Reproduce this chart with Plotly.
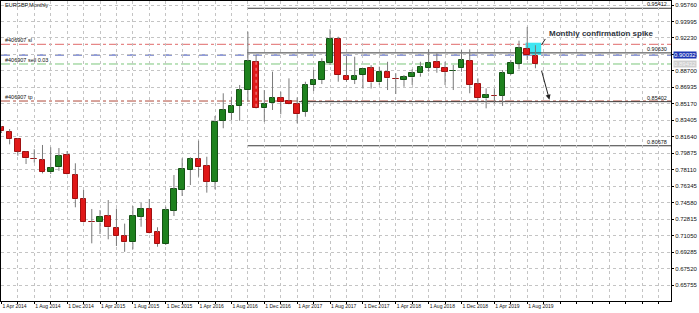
import plotly.graph_objects as go

months = ["Apr 2014","May 2014","Jun 2014","Jul 2014","Aug 2014","Sep 2014","Oct 2014","Nov 2014","Dec 2014",
          "Jan 2015","Feb 2015","Mar 2015","Apr 2015","May 2015","Jun 2015","Jul 2015","Aug 2015","Sep 2015","Oct 2015","Nov 2015","Dec 2015",
          "Jan 2016","Feb 2016","Mar 2016","Apr 2016","May 2016","Jun 2016","Jul 2016","Aug 2016","Sep 2016","Oct 2016","Nov 2016","Dec 2016",
          "Jan 2017","Feb 2017","Mar 2017","Apr 2017","May 2017","Jun 2017","Jul 2017","Aug 2017","Sep 2017","Oct 2017","Nov 2017","Dec 2017",
          "Jan 2018","Feb 2018","Mar 2018","Apr 2018","May 2018","Jun 2018","Jul 2018","Aug 2018","Sep 2018","Oct 2018","Nov 2018","Dec 2018",
          "Jan 2019","Feb 2019","Mar 2019","Apr 2019","May 2019","Jun 2019","Jul 2019","Aug 2019","Sep 2019"]

opens  = [0.8265,0.8218,0.8137,0.8004,0.7925,0.7915,0.7786,0.7837,0.7965,
          0.7754,0.7494,0.7250,0.7246,0.7315,0.7183,0.7100,0.7033,0.7307,0.7394,0.7140,0.7015,
          0.7372,0.7594,0.7808,0.7922,0.7851,0.7682,0.8336,0.8422,0.8494,0.8665,0.8968,0.8469,
          0.8523,0.8583,0.8547,0.8515,0.8433,0.8719,0.8772,0.8958,0.9212,0.8818,0.8772,0.8826,
          0.8896,0.8746,0.8862,0.8782,0.8772,0.8801,0.8844,0.8904,0.8968,0.8904,0.8870,0.8898,
          0.8976,0.8729,0.8576,0.8605,0.8604,0.8836,0.8944,0.9101,0.9029]
highs  = [0.8279,0.8247,0.8147,0.8010,0.8030,0.8076,0.8051,0.8043,0.8011,
          0.7880,0.7594,0.7390,0.7379,0.7486,0.7394,0.7233,0.7422,0.7455,0.7497,0.7194,0.7414,
          0.7754,0.7933,0.7944,0.8122,0.7950,0.8387,0.8630,0.8593,0.8719,0.9290,0.9040,0.8665,
          0.8862,0.8647,0.8790,0.8587,0.8754,0.8880,0.9005,0.9316,0.9236,0.9029,0.9022,0.8896,
          0.8931,0.8915,0.8968,0.8844,0.8826,0.8887,0.8968,0.9101,0.9058,0.8968,0.8933,0.9094,
          0.9101,0.8790,0.8683,0.8683,0.8879,0.8987,0.9194,0.9341,0.9145]
lows   = [0.8204,0.8083,0.7961,0.7872,0.7886,0.7772,0.7765,0.7800,0.7760,
          0.7408,0.7246,0.7022,0.7122,0.7065,0.6993,0.6931,0.6958,0.7200,0.7125,0.6986,0.7004,
          0.7315,0.7529,0.7647,0.7736,0.7565,0.7601,0.8255,0.8344,0.8336,0.8540,0.8464,0.8325,
          0.8451,0.8405,0.8512,0.8308,0.8379,0.8654,0.8729,0.8933,0.8754,0.8754,0.8729,0.8681,
          0.8681,0.8719,0.8665,0.8622,0.8700,0.8719,0.8808,0.8861,0.8850,0.8719,0.8665,0.8861,
          0.8630,0.8540,0.8469,0.8523,0.8494,0.8826,0.8887,0.8987,0.8898]
closes = [0.8223,0.8137,0.8004,0.7933,0.7921,0.7786,0.7826,0.7958,0.7765,
          0.7494,0.7250,0.7246,0.7307,0.7194,0.7100,0.7033,0.7315,0.7394,0.7129,0.7015,0.7379,
          0.7604,0.7815,0.7922,0.7837,0.7682,0.8325,0.8451,0.8494,0.8665,0.8976,0.8469,0.8515,
          0.8583,0.8540,0.8515,0.8408,0.8719,0.8772,0.8968,0.9212,0.8826,0.8772,0.8811,0.8885,
          0.8746,0.8862,0.8790,0.8779,0.8801,0.8844,0.8908,0.8958,0.8904,0.8861,0.8873,0.8987,
          0.8719,0.8576,0.8612,0.8602,0.8850,0.8951,0.9112,0.9040,0.8944]

price_ticks = [0.65755,0.67520,0.69285,0.71050,0.72815,0.74580,0.76345,0.78110,0.79875,
               0.81640,0.83405,0.85170,0.86935,0.88700,0.90465,0.92230,0.93995,0.95760]
date_labels = {0:"1 Apr 2014",4:"1 Aug 2014",8:"1 Dec 2014",12:"1 Apr 2015",16:"1 Aug 2015",20:"1 Dec 2015",
               24:"1 Apr 2016",28:"1 Aug 2016",32:"1 Dec 2016",36:"1 Apr 2017",40:"1 Aug 2017",44:"1 Dec 2017",
               48:"1 Apr 2018",52:"1 Aug 2018",56:"1 Dec 2018",60:"1 Apr 2019",64:"1 Aug 2019"}

# order / level lines
sl_price, bid_price, sell_price, tp_price = 0.9155, 0.9040, 0.8944, 0.8547
levels = [(0.95412, 29.9, "0.95412"), (0.90630, 29.9, "0.90630"), (0.85402, 36.2, "0.85402"), (0.80678, 29.9, "0.80678")]

idx = list(range(len(months)))
X0, X1 = -0.05, 81.5
Y0, Y1 = 0.6404, 0.9619

fig = go.Figure()

# wicks (upper and lower segments, so they stay outside the bodies)
wx, wy = [], []
for i, o, h, l, c in zip(idx, opens, highs, lows, closes):
    top, bot = max(o, c), min(o, c)
    wx += [i, i, None, i, i, None]
    wy += [top, h, None, l, bot, None]
fig.add_trace(go.Scatter(x=wx, y=wy, mode="lines", line=dict(color="#7a7a7a", width=1),
                         hoverinfo="skip", showlegend=False))

base = [min(o, c) for o, c in zip(opens, closes)]
height = [max(abs(c - o), 0.0003) for o, c in zip(opens, closes)]
fill = ["#1e821e" if c > o else "#e01818" for o, c in zip(opens, closes)]
edge = ["#145214" if c > o else "#a01010" for o, c in zip(opens, closes)]
fig.add_trace(go.Bar(x=idx, base=base, y=height, width=0.68,
                     marker=dict(color=fill, line=dict(color=edge, width=1)),
                     hoverinfo="skip", showlegend=False))

shapes = []
shapes.append(dict(type="rect", xref="x", yref="y", x0=63.8, x1=65.7, y0=0.9040, y1=0.9172,
                   fillcolor="#3fe6f2", line=dict(width=0), layer="below"))
shapes.append(dict(type="line", xref="paper", x0=0, x1=1, yref="y", y0=sl_price, y1=sl_price,
                   line=dict(color="#e06a6a", width=1, dash="dashdot"), layer="below"))
shapes.append(dict(type="line", xref="paper", x0=0, x1=1, yref="y", y0=bid_price, y1=bid_price,
                   line=dict(color="#2a3fb0", width=1, dash="dash"), layer="below"))
shapes.append(dict(type="line", xref="paper", x0=0, x1=1, yref="y", y0=sell_price, y1=sell_price,
                   line=dict(color="#7cc67c", width=1, dash="dashdot"), layer="below"))
shapes.append(dict(type="line", xref="paper", x0=0, x1=1, yref="y", y0=tp_price, y1=tp_price,
                   line=dict(color="#b04a3a", width=1, dash="dashdot"), layer="below"))
for lv, xs, _ in levels:
    shapes.append(dict(type="line", xref="x", x0=xs, x1=X1, yref="y", y0=lv, y1=lv,
                       line=dict(color="#3a3a3a", width=1), layer="below"))
shapes.append(dict(type="line", xref="x", x0=31, x1=31, yref="y", y0=opens[31], y1=closes[31],
                   line=dict(color="#f29a9a", width=1, dash="dot"), layer="above"))
shapes.append(dict(type="line", xref="x", yref="y", x0=65.75, y0=0.9150, x1=66.2, y1=0.9212,
                   line=dict(color="#222", width=1)))
fig.update_layout(shapes=shapes)

small = dict(family="Liberation Sans, Arial", size=5.5, color="#111")
ann = []
def pxx(X):
    return (X - 1) / 670
def pxy(Y):
    return 1 - (Y - 1) / 300
ann.append(dict(text="EURGBP,Monthly", xref="paper", yref="paper", x=pxx(3), y=pxy(5), xanchor="left", yanchor="middle", showarrow=False, font=small))
ann.append(dict(text="#406907 sl", xref="paper", yref="y", x=pxx(3), y=sl_price, yshift=4, xanchor="left", yanchor="middle", showarrow=False, font=small))
ann.append(dict(text="#406907 sell 0.03", xref="paper", yref="y", x=pxx(3), y=sell_price, yshift=4, xanchor="left", yanchor="middle", showarrow=False, font=small))
ann.append(dict(text="#406907 tp", xref="paper", yref="y", x=pxx(3), y=tp_price, yshift=4, xanchor="left", yanchor="middle", showarrow=False, font=small))
for lv, xs, lab in levels:
    ann.append(dict(text=lab, xref="paper", yref="y", x=pxx(669), y=lv, yshift=4, xanchor="right", yanchor="middle", showarrow=False, font=small))
ann.append(dict(text="<b>Monthly confirmation spike</b>", xref="x", yref="y", x=66.4, y=0.9268, xanchor="left", yanchor="middle",
                showarrow=False, font=dict(family="Liberation Sans, Arial", size=8, color="#2f3440")))
ann.append(dict(text="", xref="x", yref="y", x=66.7, y=0.8562, ax=65.7, ay=0.8886, axref="x", ayref="y",
                showarrow=True, arrowhead=2, arrowsize=1, arrowwidth=1, arrowcolor="#222"))
ann.append(dict(text="0.90032", xref="paper", yref="y", x=1.003, y=bid_price, xanchor="left", yanchor="middle", showarrow=False,
                bgcolor="#1c34b4", font=dict(family="Liberation Sans, Arial", size=6, color="white"), borderpad=0))
ann.append(dict(text="0.89432", xref="paper", yref="y", x=1.003, y=sell_price, xanchor="left", yanchor="middle", showarrow=False,
                bgcolor="#cfcfcf", font=dict(family="Liberation Sans, Arial", size=6, color="#f4f4f4"), borderpad=0))
fig.update_layout(annotations=ann)

tickvals = list(range(0, 82, 2))
ticktext = [date_labels.get(v, "") for v in tickvals]

fig.update_xaxes(range=[X0, X1], tickmode="array", tickvals=tickvals, ticktext=ticktext, tickangle=0,
                 showgrid=True, gridcolor="#c4c4c4", griddash="dot", gridwidth=1,
                 showline=True, linecolor="#000", linewidth=1, mirror=True,
                 ticks="outside", ticklen=2, tickcolor="#000", ticklabelposition="outside right",
                 tickfont=dict(family="Liberation Sans, Arial", size=5, color="#111"),
                 zeroline=False)
fig.update_yaxes(range=[Y0, Y1], side="right", tickmode="array", tickvals=price_ticks,
                 ticktext=[f"{v:.5f}" for v in price_ticks],
                 showgrid=True, gridcolor="#c4c4c4", griddash="dot", gridwidth=1,
                 showline=True, linecolor="#000", linewidth=1, mirror=True,
                 ticks="outside", ticklen=2, tickcolor="#000",
                 tickfont=dict(family="Liberation Sans, Arial", size=6, color="#111"), zeroline=False)

fig.update_layout(width=699, height=313, margin=dict(l=1, r=28, t=1, b=12),
                  paper_bgcolor="white", plot_bgcolor="white", bargap=0, showlegend=False)

fig.write_html("out.html")
